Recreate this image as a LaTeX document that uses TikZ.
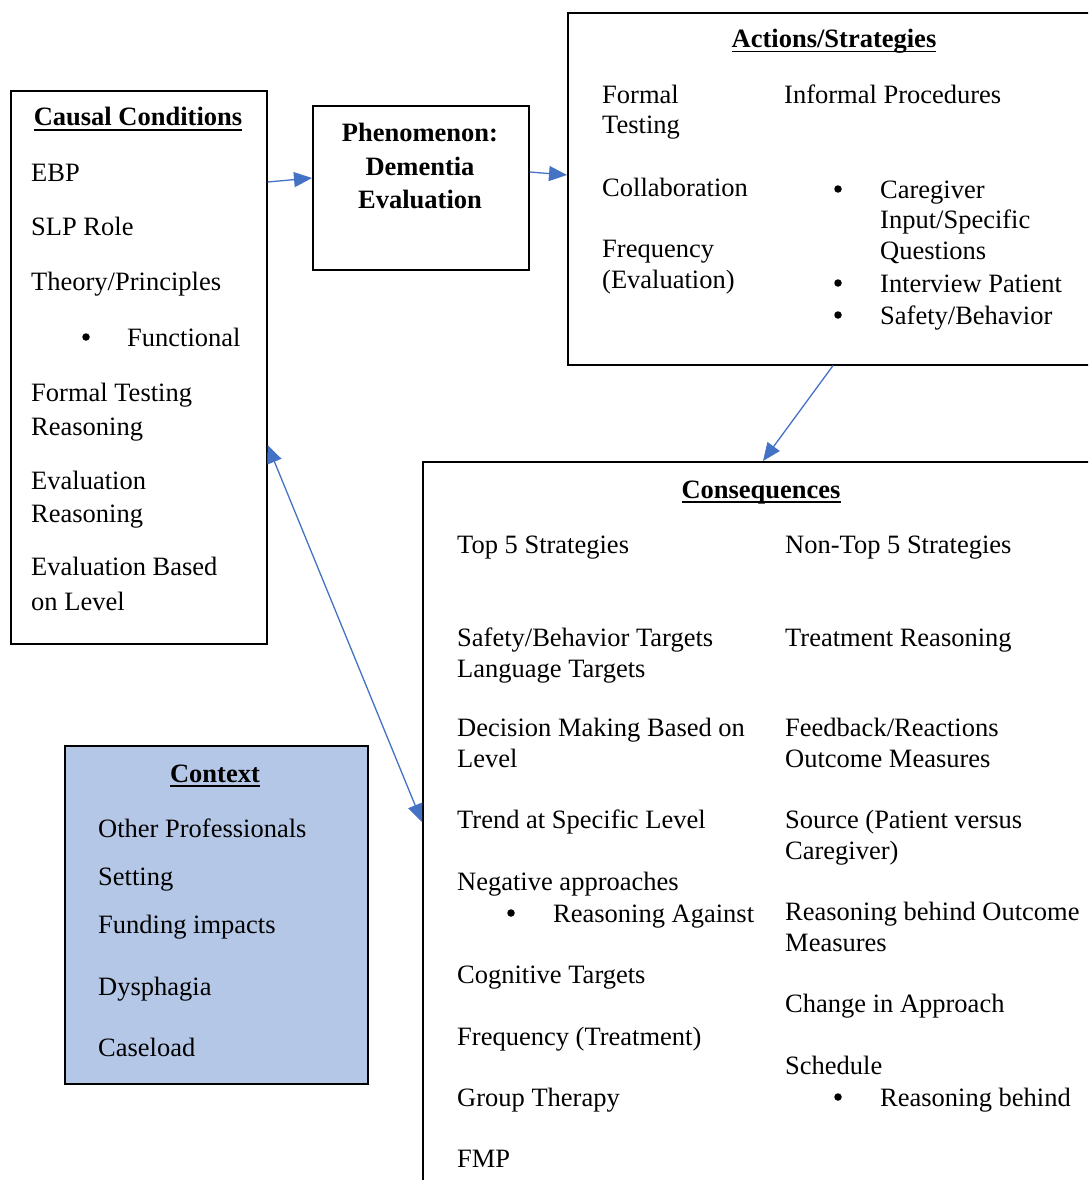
\documentclass[tikz,border=0pt]{standalone}
\usepackage{fontspec}
\setmainfont{Liberation Serif}
\usetikzlibrary{arrows.meta}
\definecolor{ctxblue}{HTML}{B4C7E7}
\definecolor{arrblue}{HTML}{4472C4}
\newcommand\hdr[1]{\setbox0\hbox{\textbf{#1}}\rlap{\rule[-4.5pt]{\wd0}{1.8pt}}\box0}
\newcommand\T[4]{\node[txt] (#1) at (#2,#3) {#4};}
\newcommand\B[3]{\node[bul] (#1) at (#2,#3) {};}
\begin{document}
\begin{tikzpicture}[x=1pt,y=-1pt,
  font=\fontsize{26.5pt}{31pt}\selectfont,
  box/.style={draw=black, line width=1.6pt, anchor=north west, inner sep=0pt},
  txt/.style={anchor=base west, inner sep=0pt},
  ttl/.style={anchor=base, inner sep=0pt},
  bul/.style={circle, fill=black, inner sep=0pt, minimum size=7.5pt},
  conn/.style={draw=arrblue, line width=1.3pt, -{Triangle[length=18pt,width=15pt]}},
  conn2/.style={draw=arrblue, line width=1.3pt, {Triangle[length=18pt,width=15pt]}-{Triangle[length=18pt,width=15pt]}}]
\useasboundingbox (0,0) rectangle (1088,1180);
\clip (0,0) rectangle (1088,1180);
% boxes
\node[box, minimum width=256pt, minimum height=553pt] (cc) at (10,90) {};
\node[box, minimum width=216pt, minimum height=164pt] (ph) at (312,105) {};
\node[box, minimum width=540pt, minimum height=352pt] (as) at (567,12) {};
\node[box, minimum width=680pt, minimum height=740pt] (co) at (422,461) {};
\node[box, fill=ctxblue, minimum width=303pt, minimum height=338pt] (cx) at (64,745) {};
% causal conditions
\node[ttl] (cct) at (138,126) {\hdr{Causal Conditions}};
\T{c1}{31}{181}{EBP}
\T{c2}{31}{235}{SLP Role}
\T{c3}{31}{290}{Theory/Principles}
\B{c4b}{86}{337}
\T{c4}{127}{346}{Functional}
\T{c5}{31}{401}{Formal Testing}
\T{c6}{31}{435}{Reasoning}
\T{c7}{31}{489}{Evaluation}
\T{c8}{31}{522}{Reasoning}
\T{c9}{31}{575}{Evaluation Based}
\T{c10}{31}{610}{on Level}
% phenomenon
\node[ttl] (p1) at (420,142) {\textbf{Phenomenon:}};
\node[ttl] (p2) at (420,175) {\textbf{Dementia}};
\node[ttl] (p3) at (420,208) {\textbf{Evaluation}};
% actions
\node[ttl] (ast) at (834,48) {\hdr{Actions/Strategies}};
\T{a1}{602}{104}{Formal}
\T{a2}{602}{134}{Testing}
\T{a3}{784}{104}{Informal Procedures}
\T{a4}{602}{196}{Collaboration}
\T{a5}{602}{257}{Frequency}
\T{a6}{602}{288}{(Evaluation)}
\B{a7b}{838}{189}
\T{a7}{880}{198}{Caregiver}
\T{a8}{880}{228}{Input/Specific}
\T{a9}{880}{259}{Questions}
\B{a10b}{838}{283}
\T{a10}{880}{292}{Interview Patient}
\B{a11b}{838}{315}
\T{a11}{880}{324}{Safety/Behavior}
% consequences
\node[ttl] (cot) at (761,498) {\hdr{Consequences}};
\T{l1}{457}{553}{Top 5 Strategies}
\T{l2}{457}{646}{Safety/Behavior Targets}
\T{l3}{457}{677}{Language Targets}
\T{l4}{457}{736}{Decision Making Based on}
\T{l5}{457}{767}{Level}
\T{l6}{457}{828}{Trend at Specific Level}
\T{l7}{457}{890}{Negative approaches}
\B{l8b}{511}{913}
\T{l8}{553}{922}{Reasoning Against}
\T{l9}{457}{983}{Cognitive Targets}
\T{l10}{457}{1045}{Frequency (Treatment)}
\T{l11}{457}{1106}{Group Therapy}
\T{l12}{457}{1167}{FMP}
\T{r1}{785}{553}{Non-Top 5 Strategies}
\T{r2}{785}{646}{Treatment Reasoning}
\T{r3}{785}{736}{Feedback/Reactions}
\T{r4}{785}{767}{Outcome Measures}
\T{r5}{785}{828}{Source (Patient versus}
\T{r6}{785}{859}{Caregiver)}
\T{r7}{785}{920}{Reasoning behind Outcome}
\T{r8}{785}{951}{Measures}
\T{r9}{785}{1012}{Change in Approach}
\T{r10}{785}{1074}{Schedule}
\B{r11b}{838}{1097}
\T{r11}{880}{1106}{Reasoning behind}
% context
\node[ttl] (cxt) at (215,782) {\hdr{Context}};
\T{x1}{98}{837}{Other Professionals}
\T{x2}{98}{885}{Setting}
\T{x3}{98}{933}{Funding impacts}
\T{x4}{98}{995}{Dysphagia}
\T{x5}{98}{1056}{Caseload}
% connectors
\draw[conn] (cc.east |- 0,182) -- (ph.west |- 0,178);
\draw[conn] (ph.east |- 0,172) -- (as.west |- 0,175);
\draw[conn] (as.south -| 833,0) -- (co.north -| 763,0);
\draw[conn2] (cc.east |- 0,445) -- (co.west |- 0,822);
\end{tikzpicture}
\end{document}
